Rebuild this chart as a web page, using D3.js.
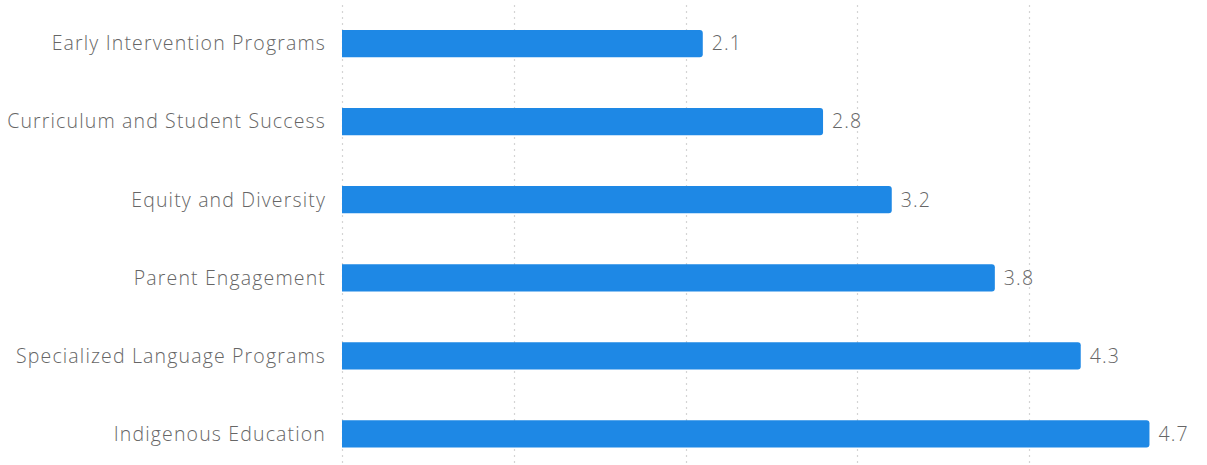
<!DOCTYPE html>
<html>
<head>
<meta charset="utf-8">
<script src="https://cdn.jsdelivr.net/npm/d3@7"></script>
<style>
  html, body { margin: 0; padding: 0; background: #fff; }
  svg { display: block; }
  .lbl { font-family: 'Open Sans', sans-serif; font-size: 19.5px; font-weight: 300; letter-spacing: 1.15px; fill: #666; }
</style>
</head>
<body>
<svg id="chart" width="1207" height="465"></svg>
<script>
// Funding allocation by program area
const categories = [
  "Early Intervention Programs",
  "Curriculum and Student Success",
  "Equity and Diversity",
  "Parent Engagement",
  "Specialized Language Programs",
  "Indigenous Education"
];
const values = [2.1, 2.8, 3.2, 3.8, 4.3, 4.7];
const tickValues = [0, 1, 2, 3, 4];

const svg = d3.select("#chart");
const width = 1207, height = 465;
const left = 342, right = 1201;

const x = d3.scaleLinear().domain([0, 5]).range([left, right]);
const y = d3.scaleBand()
  .domain(categories)
  .range([4.5, 473])
  .paddingInner(0.65)
  .paddingOuter(0.325);

// dotted vertical gridlines
svg.append("g")
  .selectAll("line")
  .data(tickValues)
  .join("line")
  .attr("x1", d => Math.round(x(d)) + 0.5)
  .attr("x2", d => Math.round(x(d)) + 0.5)
  .attr("y1", 5)
  .attr("y2", height)
  .attr("stroke", "#d4d4d4")
  .attr("stroke-width", 1.2)
  .attr("stroke-dasharray", "2,4");

const data = categories.map((c, i) => ({ c, v: values[i] }));

// bars: square on the left, rounded on the right
const r = 3;
svg.append("g")
  .selectAll("path")
  .data(data)
  .join("path")
  .attr("fill", "#1e88e5")
  .attr("d", d => {
    const x0 = x(0), x1 = x(d.v), y0 = y(d.c), h = y.bandwidth();
    return `M${x0},${y0}H${x1 - r}Q${x1},${y0} ${x1},${y0 + r}` +
           `V${y0 + h - r}Q${x1},${y0 + h} ${x1 - r},${y0 + h}H${x0}Z`;
  });

// category labels
svg.append("g")
  .selectAll("text")
  .data(data)
  .join("text")
  .attr("class", "lbl")
  .attr("x", left - 16)
  .attr("y", d => y(d.c) + y.bandwidth() / 2)
  .attr("dy", "0.35em")
  .attr("text-anchor", "end")
  .text(d => d.c);

// value labels
svg.append("g")
  .selectAll("text")
  .data(data)
  .join("text")
  .attr("class", "lbl")
  .attr("x", d => x(d.v) + 9)
  .attr("y", d => y(d.c) + y.bandwidth() / 2)
  .attr("dy", "0.35em")
  .text(d => d.v.toFixed(1));
</script>
</body>
</html>
